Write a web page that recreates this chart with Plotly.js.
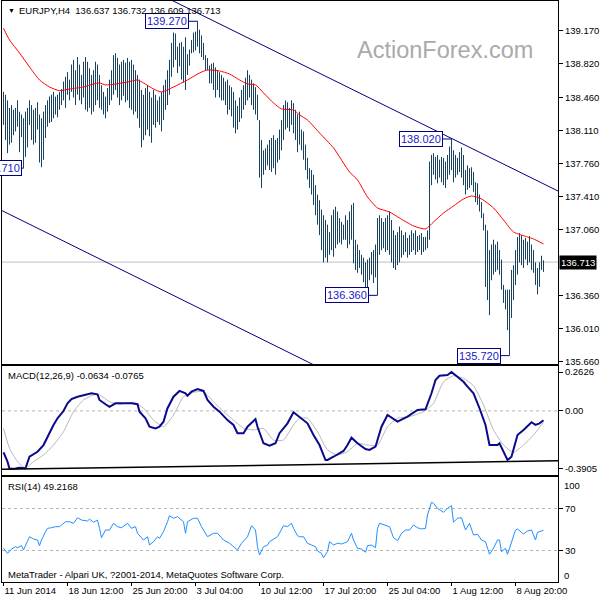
<!DOCTYPE html>
<html>
<head>
<meta charset="utf-8">
<script src="https://cdn.plot.ly/plotly-3.0.1.min.js"></script>
<style>html,body{margin:0;padding:0;background:#fff;}#chart{width:600px;height:600px;}</style>
</head>
<body>
<div id="chart"></div>
<script>
// ---- price bars (H4), high / low per bar ----
const barHigh = [
138.52,138.49,138.43,138.35,138.38,138.33,138.35,138.43,138.31,138.28,138.24,138.31,138.35,138.43,138.38,138.33,138.35,138.41,138.28,138.24,138.31,138.38,138.43,138.47,138.49,138.52,
138.47,138.49,138.52,138.55,138.63,138.68,138.73,138.65,138.81,138.86,138.75,138.89,138.81,138.70,138.84,138.89,138.84,138.77,138.70,138.75,138.84,138.81,138.70,
138.59,138.52,138.47,138.56,138.65,138.75,138.91,138.93,138.88,138.81,138.84,138.86,138.83,138.88,138.84,138.86,138.81,138.75,
138.70,138.65,138.54,138.49,138.56,138.59,138.52,138.46,138.54,138.49,138.43,138.47,138.52,138.59,
138.65,138.75,138.86,139.04,139.15,139.14,139.00,139.04,139.05,139.00,139.10,138.92,138.97,139.07,139.15,139.16,139.27,139.18,139.12,139.04,138.91,
138.88,138.80,138.82,138.83,138.78,138.75,138.73,138.70,138.67,138.63,138.65,138.59,138.57,138.52,138.43,138.37,138.46,138.54,138.59,138.67,138.75,138.70,138.65,138.61,138.57,138.49,
138.22,138.01,137.90,137.92,137.96,138.01,138.03,138.06,138.01,138.03,138.12,138.22,
138.38,138.43,138.41,138.35,138.43,138.40,138.33,138.28,138.31,
138.12,138.10,137.96,137.82,137.71,137.69,137.64,137.53,137.43,137.37,137.27,137.21,137.16,137.11,137.03,
137.21,137.27,137.30,137.25,137.18,137.14,137.11,137.21,137.16,137.25,137.32,137.34,136.95,136.90,136.84,136.79,136.76,136.71,136.74,136.76,136.82,136.84,136.90,137.18,137.21,
137.18,137.14,137.18,137.21,137.25,137.16,137.05,137.00,137.03,137.09,137.05,137.00,137.03,136.97,137.00,137.05,137.02,137.05,136.99,137.00,137.02,136.98,136.98,137.05,
137.78,137.85,137.87,137.83,137.85,137.80,137.83,137.82,137.78,137.85,137.94,138.02,137.90,137.85,137.82,137.88,137.93,137.85,137.69,137.74,137.71,137.72,137.67,137.56,137.55,137.43,137.35,137.23,
137.11,137.05,136.84,136.90,136.95,136.90,136.93,136.84,136.74,136.47,136.42,136.42,136.42,136.63,136.68,136.84,
136.98,137.02,137.00,136.95,136.97,136.93,136.99,136.90,136.84,136.71,136.65,136.71,136.78,136.732
];
const barLow = [
138.17,138.01,137.87,137.96,137.98,138.06,138.10,138.15,137.88,138.04,137.71,137.83,137.93,138.17,138.01,137.96,137.98,138.12,137.77,137.72,137.80,138.03,138.15,138.19,138.20,138.24,
138.28,138.25,138.33,138.38,138.43,138.35,138.49,138.43,138.52,138.46,138.38,138.49,138.43,138.39,138.46,138.33,138.31,138.35,138.28,138.31,138.38,138.43,138.35,
138.33,138.28,138.24,138.31,138.38,138.43,138.49,138.54,138.46,138.38,138.43,138.48,138.41,138.43,138.35,138.33,138.28,138.31,
138.24,138.14,137.93,138.01,138.06,138.12,138.05,137.98,138.17,138.14,138.20,138.17,138.10,138.22,
138.33,138.38,138.49,138.68,138.78,138.86,138.72,138.79,138.65,138.62,138.54,138.70,138.80,138.93,138.94,138.96,139.00,138.93,138.89,138.86,138.75,
138.75,138.61,138.61,138.54,138.46,138.54,138.46,138.43,138.43,138.38,138.28,138.33,138.26,138.14,138.08,138.12,138.20,138.24,138.33,138.38,138.43,138.46,138.38,138.33,138.28,138.22,
137.61,137.50,137.64,137.69,137.74,137.69,137.67,137.71,137.64,137.77,137.80,137.90,
138.01,138.12,138.14,138.10,138.17,138.08,138.01,137.88,137.96,
137.90,137.80,137.69,137.59,137.50,137.43,137.32,137.21,137.11,137.00,136.84,136.71,136.76,136.71,136.79,
136.84,136.77,136.86,136.90,136.92,136.90,136.95,136.95,136.86,136.90,136.95,136.70,136.63,136.60,136.65,136.58,136.50,136.42,136.44,136.52,136.58,136.49,136.55,136.36,136.79,
136.84,136.86,136.82,136.84,136.79,136.71,136.65,136.63,136.68,136.71,136.76,136.79,136.82,136.76,136.79,136.82,136.84,136.79,136.82,136.84,136.79,136.82,136.84,136.86,
136.95,137.53,137.64,137.59,137.55,137.61,137.56,137.53,137.50,137.59,137.64,137.69,137.56,137.61,137.64,137.67,137.61,137.53,137.43,137.48,137.50,137.53,137.46,137.35,137.32,137.25,137.18,137.05,
136.45,136.31,136.15,136.52,136.58,136.61,136.63,136.58,136.42,136.28,136.21,135.99,135.72,136.12,136.31,136.47,
136.58,136.71,136.68,136.65,136.74,136.68,136.71,136.63,136.60,136.47,136.37,136.45,136.63,136.609
];
const lastClose = 136.713;

// ---- moving average (red) ----
const maX = [0,3,8,13,18,23,28,33,40,45,48,51,56,62,67,70,75,79,85,92,98,102,108,113,118,122,126,130,135,139,145,148,152,158,165,173,177,182,187,193,198,205,211,215,220,225,230,234,239,245,250,255,262,265,270];
const maY = [139.196,139.071,138.933,138.785,138.647,138.572,138.533,138.551,138.572,138.604,138.615,138.594,138.604,138.625,138.647,138.615,138.551,138.519,138.572,138.647,138.721,138.753,138.742,138.710,138.647,138.604,138.594,138.509,138.402,138.339,138.328,138.275,138.222,138.084,137.925,137.670,137.585,137.404,137.288,137.245,137.181,137.097,137.065,137.139,137.234,137.309,137.383,137.415,137.383,137.288,137.160,137.033,136.980,136.959,136.906];

// ---- trend lines (bar index, price) ----
const upperTrendX = [80, 280];
const upperTrendY = [139.536, 137.439];
const lowerTrendX = [-5, 160];
const lowerTrendY = [137.304, 135.571];

// ---- swing labels ----
const swingIdx = [97, 224, 187, 253, 10];
const swingVal = [139.270, 138.020, 136.360, 135.720, 137.710];

// ---- MACD(12,26,9) ----
const macdX = [0,2,3,6,8,11,13,15,17,20,22,25,27,30,32,34,37,41,44,47,48,51,53,56,60,64,67,68,71,73,76,78,80,82,85,88,91,92,94,97,100,102,105,108,112,115,117,120,122,126,127,130,133,136,138,142,145,148,152,155,158,161,162,165,170,172,174,177,181,183,186,189,192,197,202,207,211,214,216,218,222,224,227,230,232,235,238,241,243,247,248,250,252,254,257,260,264,266,268,270];
const macdY = [-0.280,-0.343,-0.3905,-0.390,-0.384,-0.388,-0.310,-0.293,-0.276,-0.231,-0.174,-0.095,-0.050,-0.001,0.051,0.080,0.096,0.112,0.119,0.112,0.074,0.045,0.028,0.051,0.051,0.051,0.045,-0.005,-0.050,-0.107,-0.118,-0.107,-0.073,0.018,0.096,0.135,0.119,0.103,0.130,0.148,0.135,0.074,0.028,-0.005,-0.062,-0.095,-0.151,-0.151,-0.107,-0.055,-0.107,-0.219,-0.235,-0.219,-0.151,-0.084,-0.009,-0.039,-0.084,-0.163,-0.231,-0.332,-0.332,-0.310,-0.271,-0.231,-0.181,-0.219,-0.258,-0.264,-0.242,-0.107,-0.028,-0.073,-0.039,0.006,0.011,0.119,0.209,0.238,0.243,0.2626,0.231,0.197,0.164,0.119,0.018,-0.095,-0.231,-0.231,-0.219,-0.276,-0.332,-0.310,-0.163,-0.129,-0.077,-0.095,-0.084,-0.0634];
const sigX = [0,3,7,11,15,20,25,30,35,40,45,48,53,58,65,70,75,80,85,90,95,100,105,110,115,120,125,130,135,140,145,148,152,157,162,167,172,177,182,187,192,197,203,210,215,220,225,230,235,240,245,250,255,260,265,270];
const sigY = [-0.118,-0.253,-0.343,-0.388,-0.343,-0.298,-0.231,-0.141,-0.005,0.074,0.108,0.108,0.062,0.045,0.058,0.018,-0.062,-0.107,-0.028,0.096,0.126,0.130,0.062,-0.005,-0.062,-0.118,-0.129,-0.118,-0.197,-0.197,-0.095,-0.050,-0.050,-0.141,-0.264,-0.298,-0.276,-0.219,-0.231,-0.231,-0.107,-0.050,-0.039,-0.005,0.051,0.197,0.238,0.220,0.170,0.040,-0.129,-0.231,-0.280,-0.231,-0.163,-0.0765];
const macdTrendX = [-1, 278];
const macdTrendY = [-0.395, -0.337];
const macdTicks = [0.2626, 0, -0.3905];
const macdTickText = ['0.2626', '0.00', '-0.3905'];

// ---- RSI(14) ----
const rsiX = [0,2,4,6,7,9,10,12,13,15,17,18,19,21,22,24,26,28,31,33,35,37,39,42,43,45,47,48,49,51,53,55,57,59,62,64,66,67,70,72,73,75,77,78,80,82,83,85,87,90,91,92,95,97,99,102,105,107,110,113,117,119,122,124,126,127,128,130,132,133,136,137,140,142,144,145,147,148,150,152,154,156,157,159,160,162,163,165,167,169,172,174,175,177,179,181,182,184,186,187,188,191,193,195,197,199,201,203,205,207,209,211,212,214,215,217,220,222,224,225,227,229,231,233,235,237,239,241,243,245,247,248,249,251,252,253,256,257,260,262,264,266,267,270];
const rsiY = [32.1,27.3,31.4,33.6,32.7,34.6,30.5,38.4,43.1,41.0,40.0,34.6,40.0,47.9,51.1,51.7,52.7,52.7,57.4,57.4,55.9,61.2,59.0,58.1,60.0,56.9,59.0,51.1,42.2,49.5,49.5,55.9,52.7,51.7,55.9,51.1,52.7,46.4,40.0,43.1,35.2,38.4,43.1,41.6,47.9,57.4,63.1,60.7,62.2,57.4,46.4,57.4,60.7,60.7,52.7,43.1,46.4,46.4,40.0,36.9,30.5,36.9,43.1,53.6,49.5,33.6,25.7,33.6,35.2,38.4,41.6,43.1,53.6,52.7,55.9,51.1,44.1,43.1,43.1,36.9,35.2,33.6,29.5,27.3,23.1,28.9,38.4,35.2,36.9,36.2,38.4,46.4,40.0,32.1,31.4,28.3,34.6,35.2,32.7,51.1,55.9,53.6,52.7,42.2,39.3,46.4,49.5,49.5,54.3,51.7,50.5,51.1,63.8,75.9,75.0,70.2,66.4,70.2,72.7,56.9,60.7,61.2,49.5,55.9,44.8,45.4,40.0,38.4,26.4,32.1,40.0,40.0,28.9,32.1,26.4,32.1,49.5,50.5,45.7,48.6,49.5,40.0,47.3,49.2];
const rsiLevels = [70, 30];

// ---- axis labels ----
const priceTicks = [139.170,138.820,138.460,138.110,137.760,137.410,137.060,136.360,136.010,135.660];
const dateTickIdx = [0,32,64,96,128,160,192,224,256];
const dateTickText = ['11 Jun 2014','18 Jun 12:00','25 Jun 20:00','3 Jul 04:00','10 Jul 12:00','17 Jul 20:00','25 Jul 04:00','1 Aug 12:00','8 Aug 20:00'];

// ================= drawing =================
const FONT = 'Liberation Sans, Arial, sans-serif';
const bx = [], by = [];
for (let i = 0; i < barHigh.length; i++) { bx.push(i, i, null); by.push(barLow[i], barHigh[i], null); }

const traces = [
  {type:'scatter', mode:'lines', x:bx, y:by, xaxis:'x', yaxis:'y', connectgaps:false,
   line:{color:'#18425f', width:1}, hoverinfo:'skip'},
  {type:'scatter', mode:'lines', x:maX, y:maY, xaxis:'x', yaxis:'y',
   line:{color:'#ff0000', width:1, shape:'spline', smoothing:0.6}, hoverinfo:'skip'},
  {type:'scatter', mode:'lines', x:upperTrendX, y:upperTrendY, xaxis:'x', yaxis:'y',
   line:{color:'#000080', width:1}, hoverinfo:'skip'},
  {type:'scatter', mode:'lines', x:lowerTrendX, y:lowerTrendY, xaxis:'x', yaxis:'y',
   line:{color:'#000080', width:1}, hoverinfo:'skip'},
  {type:'scatter', mode:'lines', x:sigX, y:sigY, xaxis:'x2', yaxis:'y2',
   line:{color:'#b8b8b8', width:1, shape:'spline', smoothing:0.5}, hoverinfo:'skip'},
  {type:'scatter', mode:'lines', x:macdX, y:macdY, xaxis:'x2', yaxis:'y2',
   line:{color:'#0a0a8c', width:2}, hoverinfo:'skip'},
  {type:'scatter', mode:'lines', x:macdTrendX, y:macdTrendY, xaxis:'x2', yaxis:'y2',
   line:{color:'#000000', width:1.5}, hoverinfo:'skip'},
  {type:'scatter', mode:'lines', x:rsiX, y:rsiY, xaxis:'x3', yaxis:'y3',
   line:{color:'#1e90ff', width:1}, hoverinfo:'skip'}
];

const xr = [-0.75, 277.25];
const frame = {showline:true, linecolor:'#000', linewidth:1, mirror:true, zeroline:false, showgrid:false, fixedrange:true};
const tickFont = {family:FONT, size:9.5, color:'#000'};

const shapes = [
  {type:'line', xref:'paper', x0:0, x1:1, yref:'y', y0:lastClose, y1:lastClose, line:{color:'#c0c0c0', width:1}, layer:'below'},
  {type:'line', xref:'paper', x0:0, x1:1, yref:'y2', y0:0, y1:0, line:{color:'#b4b4b4', width:1, dash:'3px,3px'}, layer:'below'}
];
rsiLevels.forEach(v => shapes.push({type:'line', xref:'paper', x0:0, x1:1, yref:'y3', y0:v, y1:v,
  line:{color:'#b4b4b4', width:1, dash:'3px,3px'}, layer:'below'}));

const annotations = [];
swingIdx.forEach((idx, k) => annotations.push({
  x: idx, y: swingVal[k], xref:'x', yref:'y', text: swingVal[k].toFixed(3),
  showarrow:true, arrowhead:0, arrowwidth:1, arrowcolor:'#000080', ax:-31, ay:0, standoff:0,
  bgcolor:'#ffffff', bordercolor:'#000080', borderwidth:1, borderpad:1,
  font:{family:FONT, size:11, color:'#2020c8'}
}));
const px = v => (v - 2) / 556;
const py = v => (582 - v) / 581;
annotations.push(
  {xref:'paper', yref:'paper', x:px(6), y:py(10.5), xanchor:'left', yanchor:'middle', showarrow:false,
   text:'\u25BC', font:{family:FONT, size:7, color:'#000'}},
  {xref:'paper', yref:'paper', x:px(17), y:py(10.5), xanchor:'left', yanchor:'middle', showarrow:false,
   text:'EURJPY,H4  136.637 136.732 136.609 136.713', font:{family:FONT, size:9.5, color:'#000'}},
  {xref:'paper', yref:'paper', x:px(444.5), y:py(50), xanchor:'center', yanchor:'middle', showarrow:false,
   text:'ActionForex.com', font:{family:FONT, size:23.5, color:'#aaaaaa'}},
  {xref:'paper', yref:'y', x:px(559), y:lastClose, xanchor:'left', yanchor:'middle', showarrow:false,
   text:lastClose.toFixed(3), bgcolor:'#000', borderpad:1, font:{family:FONT, size:9.5, color:'#fff'}},
  {xref:'paper', yref:'paper', x:px(6), y:py(375.5), xanchor:'left', yanchor:'middle', showarrow:false,
   text:'MACD(12,26,9) -0.0634 -0.0765', font:{family:FONT, size:9.5, color:'#000'}},
  {xref:'paper', yref:'paper', x:px(6), y:py(486.7), xanchor:'left', yanchor:'middle', showarrow:false,
   text:'RSI(14) 49.2168', font:{family:FONT, size:9.5, color:'#000'}},
  {xref:'paper', yref:'paper', x:px(6), y:py(574.3), xanchor:'left', yanchor:'middle', showarrow:false,
   text:'MetaTrader - Alpari UK, ?2001-2014, MetaQuotes Software Corp.', font:{family:FONT, size:9.5, color:'#000'}},
  {xref:'paper', yref:'paper', x:px(562), y:py(485), xanchor:'left', yanchor:'middle', showarrow:false,
   text:'100', font:tickFont},
  {xref:'paper', yref:'paper', x:px(562), y:py(575), xanchor:'left', yanchor:'middle', showarrow:false,
   text:'0', font:tickFont}
);

const layout = {
  width:600, height:600, margin:{l:2, r:42, t:1, b:18},
  paper_bgcolor:'#fff', plot_bgcolor:'#fff', showlegend:false,
  font:{family:FONT, size:9.5, color:'#000'},
  xaxis:Object.assign({}, frame, {range:xr, anchor:'y', showticklabels:false, ticks:''}),
  xaxis2:Object.assign({}, frame, {range:xr, anchor:'y2', showticklabels:false, ticks:''}),
  xaxis3:Object.assign({}, frame, {range:xr, anchor:'y3', tickvals:dateTickIdx, ticktext:dateTickText,
    ticks:'outside', ticklen:3, tickcolor:'#000', ticklabelposition:'outside right', tickfont:tickFont}),
  yaxis:Object.assign({}, frame, {domain:[0.37522,1], range:[135.631,139.485], anchor:'x', side:'right',
    tickvals:priceTicks, ticktext:priceTicks.map(v => v.toFixed(3)), ticks:'outside', ticklen:4, tickcolor:'#000', tickfont:tickFont}),
  yaxis2:Object.assign({}, frame, {domain:[0.18417,0.37177], range:[-0.4334,0.3036], anchor:'x2', side:'right',
    tickvals:macdTicks, ticktext:macdTickText, ticks:'outside', ticklen:4, tickcolor:'#000', tickfont:tickFont}),
  yaxis3:Object.assign({}, frame, {domain:[0,0.18072], range:[0,100], anchor:'x3', side:'right',
    tickvals:rsiLevels, ticktext:rsiLevels.map(String), ticks:'outside', ticklen:4, tickcolor:'#000', tickfont:tickFont}),
  shapes:shapes, annotations:annotations
};

Plotly.newPlot('chart', traces, layout, {displayModeBar:false, staticPlot:true});
</script>
</body>
</html>
